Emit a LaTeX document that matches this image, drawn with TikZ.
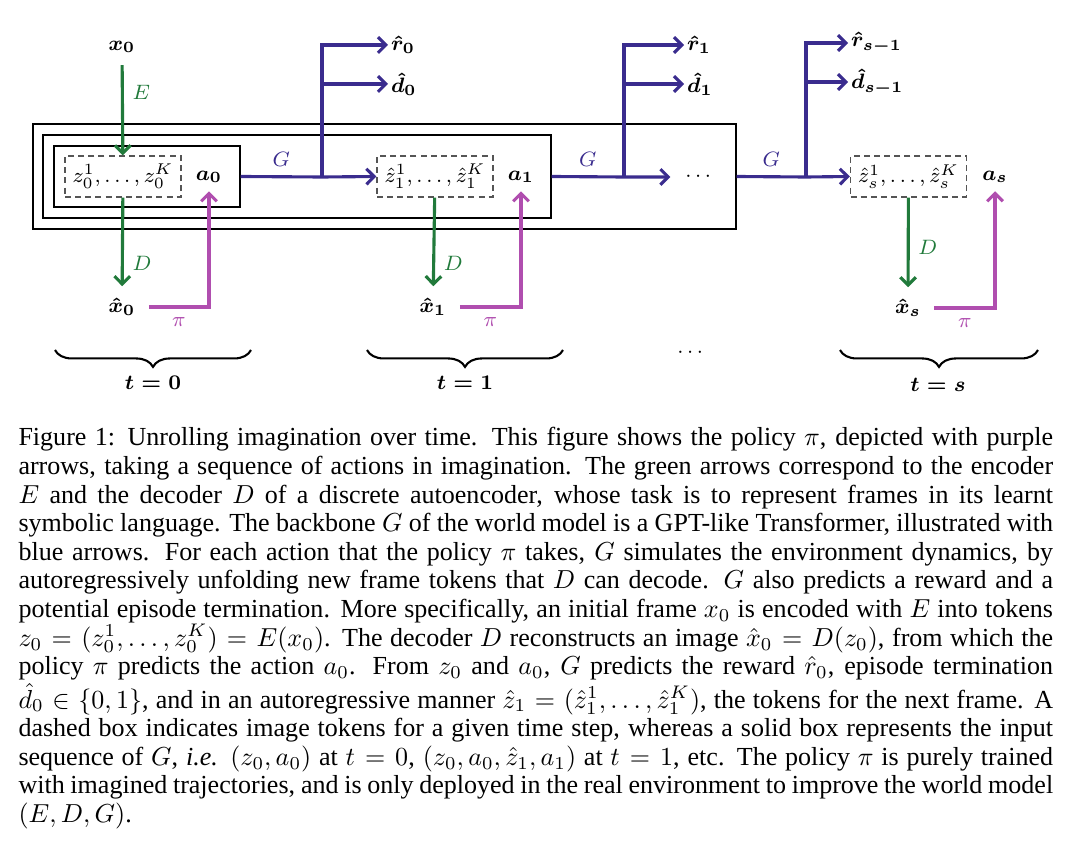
\documentclass[tikz,border=0pt]{standalone}
\usepackage{amsmath}
\usepackage{fontspec}
\setmainfont{Liberation Serif}
\usetikzlibrary{positioning,arrows.meta,calc,decorations.pathreplacing}
\definecolor{gblue}{HTML}{3A2C8E}
\definecolor{encgreen}{HTML}{217A3B}
\definecolor{polpurple}{HTML}{B04EAF}
\definecolor{tokgray}{HTML}{555555}

\begin{document}
\begin{tikzpicture}[x=.0135cm,y=-.0135cm,font=\footnotesize,
  lbl/.style={inner sep=1pt,font=\footnotesize\boldmath},
  tok/.style={draw=tokgray,dash pattern=on 2.3pt off 1.6pt,line width=.5pt,minimum width=1.566cm,minimum height=.5535cm,inner sep=1pt},
  seqbox/.style={draw,line width=.5pt,inner sep=0pt},
  blu/.style={-{Straight Barb[length=3pt,width=6pt]},gblue,line width=1.2pt},
  enc/.style={-{Straight Barb[length=3pt,width=6pt]},encgreen,line width=1.2pt},
  pol/.style={-{Straight Barb[length=3pt,width=6pt]},polpurple,line width=1.2pt},
  brc/.style={decorate,decoration={brace,mirror,amplitude=6.5pt},line width=.8pt}]
  \useasboundingbox (0,0) rectangle (1078,853);
  \node[seqbox,minimum width=9.4905cm,minimum height=1.4175cm] (seq2) at (384.5,176.5) {};
  \node[seqbox,minimum width=6.858cm,minimum height=1.1205cm] (seq1) at (297,176.5) {};
  \node[seqbox,minimum width=2.511cm,minimum height=.8235cm] (seq0) at (147,176.5) {};
  \node[lbl] (x0) at (122,47) {$x_0$};
  \node[tok] (z0) at (123,176.5) {$z_0^1,\dots,z_0^K$};
  \node[tok] (z1) at (435,176.5) {$\hat{z}_1^1,\dots,\hat{z}_1^K$};
  \node[tok] (zs) at (908.5,176.5) {$\hat{z}_s^1,\dots,\hat{z}_s^K$};
  \node[lbl] (a0) at (209,177) {$a_0$};
  \node[lbl] (a1) at (521,177) {$a_1$};
  \node[lbl] (as) at (995,177) {$a_s$};
  \node[lbl,anchor=west] (r0) at (388,45) {$\hat{r}_0$};
  \node[lbl,anchor=west] (d0) at (388,84) {$\hat{d}_0$};
  \node[lbl,anchor=west] (r1) at (684,45) {$\hat{r}_1$};
  \node[lbl,anchor=west] (d1) at (684,84) {$\hat{d}_1$};
  \node[lbl,anchor=west] (rs) at (848,43) {$\hat{r}_{s-1}$};
  \node[lbl,anchor=west] (ds) at (848,82) {$\hat{d}_{s-1}$};
  \node[inner sep=5.5pt] (dots) at (700,177) {$\cdots$};
  \node[lbl] (xh0) at (122,307) {$\hat{x}_0$};
  \node[lbl] (xh1) at (433,307) {$\hat{x}_1$};
  \node[lbl] (xhs) at (908,308) {$\hat{x}_s$};
  \coordinate (j0) at (322,177);
  \coordinate (j1) at (624,177);
  \coordinate (j2) at (806,177);
  \draw[enc,shorten <=3.5pt] (x0) -- node[right,pos=.37,text=encgreen]{$E$} (z0);
  \draw[enc,shorten >=3.5pt] (z0) -- node[right,pos=.67,text=encgreen]{$D$} (xh0);
  \draw[enc,shorten >=3.5pt] (z1) -- node[right,pos=.67,text=encgreen]{$D$} (xh1);
  \draw[enc,shorten >=3.5pt] (zs) -- node[right,pos=.5,text=encgreen]{$D$} (xhs);
  \draw[pol,shorten >=2pt] ([xshift=4pt]xh0.east) -| node[below,pos=.25,text=polpurple]{$\pi$} (a0.south);
  \draw[pol,shorten >=2pt] ([xshift=4pt]xh1.east) -| node[below,pos=.25,text=polpurple]{$\pi$} (a1.south);
  \draw[pol,shorten >=2pt] ([xshift=4pt]xhs.east) -| node[below,pos=.25,text=polpurple]{$\pi$} (as.south);
  \draw[blu] (seq0.east) -- node[above,text=gblue]{$G$} (j0) -- (z1.west);
  \draw[blu] (j0) |- (r0.west);
  \draw[blu] (j0 |- d0.west) -- (d0.west);
  \draw[blu] (seq1.east) -- node[above,text=gblue]{$G$} (j1) -- (dots.west);
  \draw[blu] (j1) |- (r1.west);
  \draw[blu] (j1 |- d1.west) -- (d1.west);
  \draw[blu] (seq2.east) -- node[above,text=gblue]{$G$} (j2) -- (zs.west);
  \draw[blu] (j2) |- (rs.west);
  \draw[blu] (j2 |- ds.west) -- (ds.west);
  \draw[brc] (55,350) -- (251,350);
  \draw[brc] (367,350) -- (563,350);
  \draw[brc] (840,350) -- (1038,350);
  \node (mdots) at (692,353) {$\cdots$};
  \node[lbl] (t0) at (153,383) {$t=0$};
  \node[lbl] (t1) at (465,383) {$t=1$};
  \node[lbl] (ts) at (938,385) {$t=s$};
  \node[anchor=north west,inner sep=0pt,text width=397.5pt,align=justify,font=\fontsize{10}{11}\selectfont] (cap) at (18,427) {Figure 1: Unrolling imagination over time. This figure shows the policy $\pi$, depicted with purple\linebreak
arrows, taking a sequence of actions in imagination. The green arrows correspond to the encoder\linebreak
$E$ and the decoder $D$ of a discrete autoencoder, whose task is to represent frames in its learnt\linebreak
symbolic language. The backbone $G$ of the world model is a GPT-like Transformer, illustrated with\linebreak
blue arrows. For each action that the policy $\pi$ takes, $G$ simulates the environment dynamics, by\linebreak
autoregressively unfolding new frame tokens that $D$ can decode. $G$ also predicts a reward and a\linebreak
potential episode termination. More specifically, an initial frame $x_0$ is encoded with $E$ into tokens\linebreak
$z_0=(z_0^1,\dots,z_0^K)=E(x_0)$. The decoder $D$ reconstructs an image $\hat{x}_0=D(z_0)$, from which the\linebreak
policy $\pi$ predicts the action $a_0$. From $z_0$ and $a_0$, $G$ predicts the reward $\hat{r}_0$, episode termination\linebreak
$\hat{d}_0\in\{0,1\}$, and in an autoregressive manner $\hat{z}_1=(\hat{z}_1^1,\dots,\hat{z}_1^K)$, the tokens for the next frame. A\linebreak
dashed box indicates image tokens for a given time step, whereas a solid box represents the input\linebreak
sequence of $G$, \emph{i.e.} $(z_0,a_0)$ at $t=0$, $(z_0,a_0,\hat{z}_1,a_1)$ at $t=1$, etc. The policy $\pi$ is purely trained\linebreak
with imagined trajectories, and is only deployed in the real environment to improve the world model\linebreak
$(E,D,G)$.};
\end{tikzpicture}
\end{document}
